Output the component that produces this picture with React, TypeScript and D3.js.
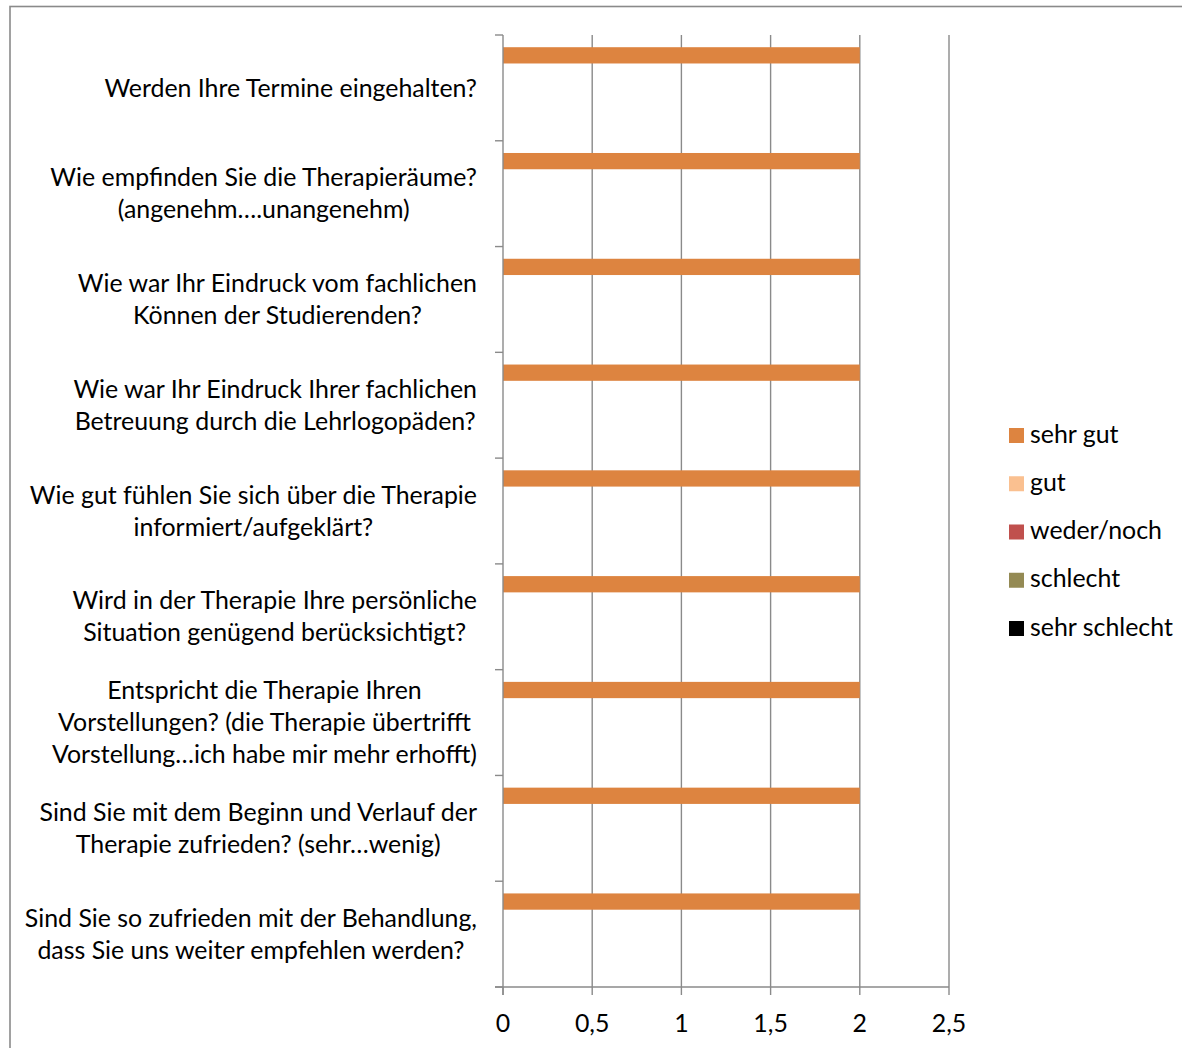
import React, { useEffect, useRef } from 'react';
import * as d3 from 'd3';

const categories: string[] = [
  'Werden Ihre Termine eingehalten?',
  'Wie empfinden Sie die Therapieräume?\n(angenehm….unangenehm)',
  'Wie war Ihr Eindruck vom fachlichen\nKönnen der Studierenden?',
  'Wie war Ihr Eindruck Ihrer fachlichen\nBetreuung durch die Lehrlogopäden?',
  'Wie gut fühlen Sie sich über die Therapie\ninformiert/aufgeklärt?',
  'Wird in der Therapie Ihre persönliche\nSituation genügend berücksichtigt?',
  'Entspricht die Therapie Ihren\nVorstellungen? (die Therapie übertrifft\nVorstellung…ich habe mir mehr erhofft)',
  'Sind Sie mit dem Beginn und Verlauf der\nTherapie zufrieden? (sehr…wenig)',
  'Sind Sie so zufrieden mit der Behandlung,\ndass Sie uns weiter empfehlen werden?',
];

const seriesNames: string[] = ['sehr gut', 'gut', 'weder/noch', 'schlecht', 'sehr schlecht'];
const seriesColors: string[] = ['#DD8440', '#FAC090', '#C0504D', '#948A54', '#000000'];

const sehrGut: number[] = [2, 2, 2, 2, 2, 2, 2, 2, 2];
const gut: number[] = [0, 0, 0, 0, 0, 0, 0, 0, 0];
const wederNoch: number[] = [0, 0, 0, 0, 0, 0, 0, 0, 0];
const schlecht: number[] = [0, 0, 0, 0, 0, 0, 0, 0, 0];
const sehrSchlecht: number[] = [0, 0, 0, 0, 0, 0, 0, 0, 0];

const xTicks: number[] = [0, 0.5, 1, 1.5, 2, 2.5];
const xTickLabels: string[] = ['0', '0,5', '1', '1,5', '2', '2,5'];

const FONT = 'Lato, "Open Sans", sans-serif';
const FONT_SIZE = 24.9;
const GRID = '#8A8A8A';

export default function App() {
  const ref = useRef<SVGSVGElement | null>(null);

  useEffect(() => {
    const svg = d3.select(ref.current);
    svg.selectAll('*').remove();

    const seriesValues = [sehrGut, gut, wederNoch, schlecht, sehrSchlecht];

    const left = 503, right = 949, top = 35, bottom = 987;
    const x = d3.scaleLinear().domain([0, 2.5]).range([left, right]);
    const y = d3.scaleBand<string>().domain(categories).range([top, bottom]).padding(0);
    const ySub = d3
      .scaleBand<string>()
      .domain(seriesNames)
      .range([0, y.bandwidth()])
      .paddingInner(0)
      .paddingOuter(0.75);

    // outer frame
    svg
      .append('rect')
      .attr('x', 10)
      .attr('y', 6.5)
      .attr('width', 1300)
      .attr('height', 1300)
      .attr('fill', 'none')
      .attr('stroke', GRID)
      .attr('stroke-width', 1.6);

    // vertical gridlines
    svg
      .append('g')
      .selectAll('line')
      .data(xTicks.slice(1))
      .join('line')
      .attr('x1', (d) => x(d))
      .attr('x2', (d) => x(d))
      .attr('y1', top)
      .attr('y2', bottom)
      .attr('stroke', GRID)
      .attr('stroke-width', 1.4);

    // bars
    const bars = svg.append('g');
    seriesNames.forEach((s, si) => {
      bars
        .append('g')
        .selectAll('rect')
        .data(seriesValues[si].map((v, i) => ({ v, c: categories[i] })))
        .join('rect')
        .attr('x', x(0))
        .attr('y', (d) => (y(d.c) as number) + (ySub(s) as number))
        .attr('width', (d) => x(d.v) - x(0))
        .attr('height', ySub.bandwidth())
        .attr('fill', seriesColors[si]);
    });

    // y axis line and ticks
    const axes = svg.append('g').attr('stroke', GRID).attr('stroke-width', 1.4);
    axes.append('line').attr('x1', left).attr('x2', left).attr('y1', top).attr('y2', bottom + 8);
    const yBounds = categories.map((c) => y(c) as number).concat([bottom]);
    axes
      .append('g')
      .selectAll('line')
      .data(yBounds)
      .join('line')
      .attr('x1', left - 8)
      .attr('x2', left)
      .attr('y1', (d) => d)
      .attr('y2', (d) => d);

    // x axis line and ticks
    axes.append('line').attr('x1', left - 8).attr('x2', right).attr('y1', bottom).attr('y2', bottom);
    axes
      .append('g')
      .selectAll('line')
      .data(xTicks)
      .join('line')
      .attr('x1', (d) => x(d))
      .attr('x2', (d) => x(d))
      .attr('y1', bottom)
      .attr('y2', bottom + 8);

    // x tick labels
    svg
      .append('g')
      .selectAll('text')
      .data(xTicks)
      .join('text')
      .attr('x', (d) => x(d))
      .attr('y', 1032)
      .attr('text-anchor', 'middle')
      .attr('font-family', FONT)
      .attr('font-size', FONT_SIZE)
      .attr('fill', '#000')
      .text((d, i) => xTickLabels[i]);

    // category labels: block right-aligned at 477, lines centered within block
    const lineH = 32;
    const labelRight = 477;
    const lab = svg.append('g');
    categories.forEach((c) => {
      const lines = c.split('\n');
      const cy = (y(c) as number) + y.bandwidth() / 2;
      const g = lab.append('g');
      const texts = g
        .selectAll('text')
        .data(lines)
        .join('text')
        .attr('y', (d, i) => cy + (i - (lines.length - 1) / 2) * lineH)
        .attr('dy', '0.35em')
        .attr('text-anchor', 'middle')
        .attr('font-family', FONT)
        .attr('font-size', FONT_SIZE)
        .attr('fill', '#000')
        .text((d) => d);
      let maxW = 0;
      texts.each(function () {
        const w = (this as SVGTextElement).getComputedTextLength();
        if (w > maxW) maxW = w;
      });
      texts.attr('x', labelRight - maxW / 2);
    });

    // legend
    const leg = svg.append('g');
    seriesNames.forEach((s, i) => {
      const cy = 434 + i * 48.25;
      leg
        .append('rect')
        .attr('x', 1009)
        .attr('y', cy - 6)
        .attr('width', 15)
        .attr('height', 15)
        .attr('fill', seriesColors[i]);
      leg
        .append('text')
        .attr('x', 1030)
        .attr('y', cy)
        .attr('dy', '0.35em')
        .attr('font-family', FONT)
        .attr('font-size', FONT_SIZE)
        .attr('fill', '#000')
        .text(s);
    });
  }, []);

  return (
    <svg
      ref={ref}
      width={1182}
      height={1048}
      style={{ position: 'absolute', left: 0, top: 0, background: '#fff' }}
    />
  );
}
